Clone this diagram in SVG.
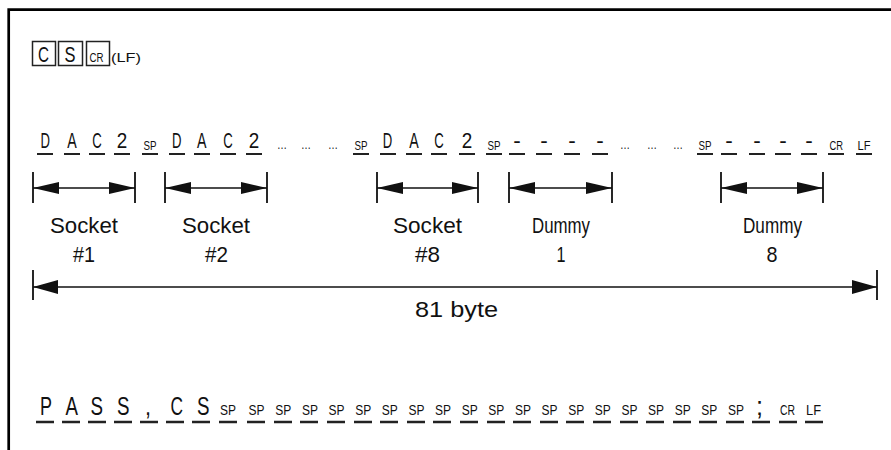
<svg xmlns="http://www.w3.org/2000/svg" width="891" height="450" viewBox="0 0 891 450">
<defs>
<style>
text{font-family:"Liberation Sans",Arial,sans-serif;fill:#111}
.b{font-size:22px}
.b4{font-size:25px}
.s{font-size:13px}
.e{font-size:15px}
.s4{font-size:14px}
.l{font-size:22px}
.ul{stroke:#222;stroke-width:2}
.ul4{stroke:#222;stroke-width:2.5}
.box{fill:none;stroke:#222;stroke-width:1.5}
.dim{stroke:#111;stroke-width:1.5;fill:none}
.tk{stroke:#111;stroke-width:1.8}
</style>
<marker id="ah" markerUnits="userSpaceOnUse" viewBox="0 -6 26 12" refX="26" refY="0" markerWidth="26" markerHeight="12" orient="auto-start-reverse">
<path d="M0,-6 L26,0 L0,6 Z" fill="#111"/>
</marker>
<marker id="ahL" markerUnits="userSpaceOnUse" viewBox="0 -7 25 14" refX="25" refY="0" markerWidth="25" markerHeight="14" orient="auto-start-reverse">
<path d="M0,-7 L25,0 L0,7 Z" fill="#111"/>
</marker>
</defs>
<rect width="891" height="450" fill="#fff"/>
<path d="M8.7 450 V9.7 H891" fill="none" stroke="#000" stroke-width="2.7"/>

<g id="cmd-cs">
<rect class="box" x="32.5" y="41.5" width="23" height="24"/>
<rect class="box" x="58.5" y="41.5" width="24" height="24"/>
<rect class="box" x="86.5" y="41.5" width="23" height="24"/>
<text x="38" y="62" textLength="11" lengthAdjust="spacingAndGlyphs" font-size="22">C</text>
<text x="64.5" y="62" textLength="11" lengthAdjust="spacingAndGlyphs" font-size="22">S</text>
<text x="89.5" y="62" font-size="12" textLength="14" lengthAdjust="spacingAndGlyphs">CR</text>
<text x="111" y="62" font-size="12" textLength="30" lengthAdjust="spacingAndGlyphs">(LF)</text>
</g>

<g id="response">
<g class="b">
<text x="40.5" y="148" textLength="9.5" lengthAdjust="spacingAndGlyphs">D</text>
<text x="67.2" y="148" textLength="9.5" lengthAdjust="spacingAndGlyphs">A</text>
<text x="92.2" y="148" textLength="9.5" lengthAdjust="spacingAndGlyphs">C</text>
<text x="116.7" y="148" textLength="10.5" lengthAdjust="spacingAndGlyphs">2</text>
<text x="171.9" y="148" textLength="9.5" lengthAdjust="spacingAndGlyphs">D</text>
<text x="196.9" y="148" textLength="9.5" lengthAdjust="spacingAndGlyphs">A</text>
<text x="223.2" y="148" textLength="9.5" lengthAdjust="spacingAndGlyphs">C</text>
<text x="248.7" y="148" textLength="10.5" lengthAdjust="spacingAndGlyphs">2</text>
<text x="382.7" y="148" textLength="9.5" lengthAdjust="spacingAndGlyphs">D</text>
<text x="409.2" y="148" textLength="9.5" lengthAdjust="spacingAndGlyphs">A</text>
<text x="434.2" y="148" textLength="9.5" lengthAdjust="spacingAndGlyphs">C</text>
<text x="461.7" y="148" textLength="10.5" lengthAdjust="spacingAndGlyphs">2</text>
<text x="513.2" y="148" textLength="7.5" lengthAdjust="spacingAndGlyphs">-</text>
<text x="540.2" y="148" textLength="7.5" lengthAdjust="spacingAndGlyphs">-</text>
<text x="568.2" y="148" textLength="7.5" lengthAdjust="spacingAndGlyphs">-</text>
<text x="596.2" y="148" textLength="7.5" lengthAdjust="spacingAndGlyphs">-</text>
<text x="725.2" y="148" textLength="7.5" lengthAdjust="spacingAndGlyphs">-</text>
<text x="753.2" y="148" textLength="7.5" lengthAdjust="spacingAndGlyphs">-</text>
<text x="779.2" y="148" textLength="7.5" lengthAdjust="spacingAndGlyphs">-</text>
<text x="805.2" y="148" textLength="7.5" lengthAdjust="spacingAndGlyphs">-</text>
</g>
<g class="s">
<text x="143.5" y="149.5" textLength="13" lengthAdjust="spacingAndGlyphs">SP</text>
<text x="354.5" y="149.5" textLength="13" lengthAdjust="spacingAndGlyphs">SP</text>
<text x="487.5" y="149.5" textLength="13" lengthAdjust="spacingAndGlyphs">SP</text>
<text x="698.5" y="149.5" textLength="13" lengthAdjust="spacingAndGlyphs">SP</text>
<text x="829.5" y="149.5" textLength="13.5" lengthAdjust="spacingAndGlyphs">CR</text>
<text x="857.5" y="149.5" textLength="13" lengthAdjust="spacingAndGlyphs">LF</text>
</g>
<g class="e">
<text x="277" y="149" textLength="10" lengthAdjust="spacingAndGlyphs">…</text>
<text x="301" y="149" textLength="10" lengthAdjust="spacingAndGlyphs">…</text>
<text x="328" y="149" textLength="10" lengthAdjust="spacingAndGlyphs">…</text>
<text x="620" y="149" textLength="10" lengthAdjust="spacingAndGlyphs">…</text>
<text x="647" y="149" textLength="10" lengthAdjust="spacingAndGlyphs">…</text>
<text x="673" y="149" textLength="10" lengthAdjust="spacingAndGlyphs">…</text>
</g>
<path class="ul" d="M37 154h16M64 154h16M89 154h16M114 154h16M142 154h16M169 154h16M194 154h16M220 154h16M246 154h16M353 154h16M380 154h16M406 154h16M431 154h16M459 154h16M486 154h16M509 154h16M536 154h16M564 154h16M592 154h16M697 154h16M721 154h16M749 154h16M775 154h16M801 154h16M828 154h16M856 154h16"/>
</g>

<g id="connectors">
<g class="tk">
<path d="M33 172V203M135 172V203M165 172V203M267 172V203M377 172V203M478 172V203M509 172V203M612 172V203M721 172V203M823 172V203M33 270V300M877 270V300"/>
</g>
<line class="dim" x1="33" y1="188" x2="135" y2="188" marker-start="url(#ah)" marker-end="url(#ah)"/>
<line class="dim" x1="165" y1="188" x2="267" y2="188" marker-start="url(#ah)" marker-end="url(#ah)"/>
<line class="dim" x1="377" y1="188" x2="478" y2="188" marker-start="url(#ah)" marker-end="url(#ah)"/>
<line class="dim" x1="509" y1="188" x2="612" y2="188" marker-start="url(#ah)" marker-end="url(#ah)"/>
<line class="dim" x1="721" y1="188" x2="823" y2="188" marker-start="url(#ah)" marker-end="url(#ah)"/>
<line class="dim" x1="33" y1="287" x2="877" y2="287" marker-start="url(#ahL)" marker-end="url(#ahL)"/>
</g>

<g id="socket1" class="l">
<text x="50" y="233" textLength="68" lengthAdjust="spacingAndGlyphs">Socket</text>
<text x="73" y="262" textLength="22" lengthAdjust="spacingAndGlyphs">#1</text>
</g>
<g id="socket2" class="l">
<text x="182" y="233" textLength="68" lengthAdjust="spacingAndGlyphs">Socket</text>
<text x="205" y="262" textLength="23" lengthAdjust="spacingAndGlyphs">#2</text>
</g>
<g id="socket8" class="l">
<text x="393" y="233" textLength="69" lengthAdjust="spacingAndGlyphs">Socket</text>
<text x="415" y="262" textLength="25" lengthAdjust="spacingAndGlyphs">#8</text>
</g>
<g id="dummy1" class="l">
<text x="532" y="233" textLength="58" lengthAdjust="spacingAndGlyphs">Dummy</text>
<text x="556.5" y="262" textLength="9" lengthAdjust="spacingAndGlyphs">1</text>
</g>
<g id="dummy8" class="l">
<text x="743" y="233" textLength="59" lengthAdjust="spacingAndGlyphs">Dummy</text>
<text x="766.5" y="262" textLength="11" lengthAdjust="spacingAndGlyphs">8</text>
</g>
<g id="total" class="l">
<text x="415" y="317" textLength="83" lengthAdjust="spacingAndGlyphs">81 byte</text>
</g>

<g id="pass-line">
<g class="b4">
<text x="40" y="415" textLength="12" lengthAdjust="spacingAndGlyphs">P</text>
<text x="65.5" y="415" textLength="12.5" lengthAdjust="spacingAndGlyphs">A</text>
<text x="90.5" y="415" textLength="12.5" lengthAdjust="spacingAndGlyphs">S</text>
<text x="117" y="415" textLength="12.5" lengthAdjust="spacingAndGlyphs">S</text>
<text x="145" y="415" textLength="6" lengthAdjust="spacingAndGlyphs">,</text>
<text x="170.5" y="415" textLength="12.5" lengthAdjust="spacingAndGlyphs">C</text>
<text x="197" y="415" textLength="12.5" lengthAdjust="spacingAndGlyphs">S</text>
<text x="756" y="415" textLength="7" lengthAdjust="spacingAndGlyphs">;</text>
</g>
<g class="s4">
<text x="220" y="415" textLength="16" lengthAdjust="spacingAndGlyphs">SP</text>
<text x="248.6" y="415" textLength="16" lengthAdjust="spacingAndGlyphs">SP</text>
<text x="275.3" y="415" textLength="16" lengthAdjust="spacingAndGlyphs">SP</text>
<text x="301.9" y="415" textLength="16" lengthAdjust="spacingAndGlyphs">SP</text>
<text x="328.5" y="415" textLength="16" lengthAdjust="spacingAndGlyphs">SP</text>
<text x="355.2" y="415" textLength="16" lengthAdjust="spacingAndGlyphs">SP</text>
<text x="381.8" y="415" textLength="16" lengthAdjust="spacingAndGlyphs">SP</text>
<text x="408.4" y="415" textLength="16" lengthAdjust="spacingAndGlyphs">SP</text>
<text x="435" y="415" textLength="16" lengthAdjust="spacingAndGlyphs">SP</text>
<text x="461.7" y="415" textLength="16" lengthAdjust="spacingAndGlyphs">SP</text>
<text x="488.3" y="415" textLength="16" lengthAdjust="spacingAndGlyphs">SP</text>
<text x="514.9" y="415" textLength="16" lengthAdjust="spacingAndGlyphs">SP</text>
<text x="541.6" y="415" textLength="16" lengthAdjust="spacingAndGlyphs">SP</text>
<text x="568.2" y="415" textLength="16" lengthAdjust="spacingAndGlyphs">SP</text>
<text x="594.8" y="415" textLength="16" lengthAdjust="spacingAndGlyphs">SP</text>
<text x="621.4" y="415" textLength="16" lengthAdjust="spacingAndGlyphs">SP</text>
<text x="648.1" y="415" textLength="16" lengthAdjust="spacingAndGlyphs">SP</text>
<text x="674.7" y="415" textLength="16" lengthAdjust="spacingAndGlyphs">SP</text>
<text x="701.3" y="415" textLength="16" lengthAdjust="spacingAndGlyphs">SP</text>
<text x="728" y="415" textLength="16" lengthAdjust="spacingAndGlyphs">SP</text>
<text x="780" y="415" textLength="15" lengthAdjust="spacingAndGlyphs">CR</text>
<text x="806" y="415" textLength="15" lengthAdjust="spacingAndGlyphs">LF</text>
</g>
<path class="ul4" d="M36 422h18M62 422h18M88 422h18M114 422h18M140 422h18M166 422h18M192 422h18M219 422h18M247 422h18M274 422h18M300 422h18M327 422h18M354 422h18M380 422h18M407 422h18M433 422h18M460 422h18M487 422h18M513 422h18M540 422h18M566 422h18M593 422h18M620 422h18M646 422h18M673 422h18M699 422h18M726 422h18M752 422h18M779 422h18M805 422h18"/>
</g>
</svg>
